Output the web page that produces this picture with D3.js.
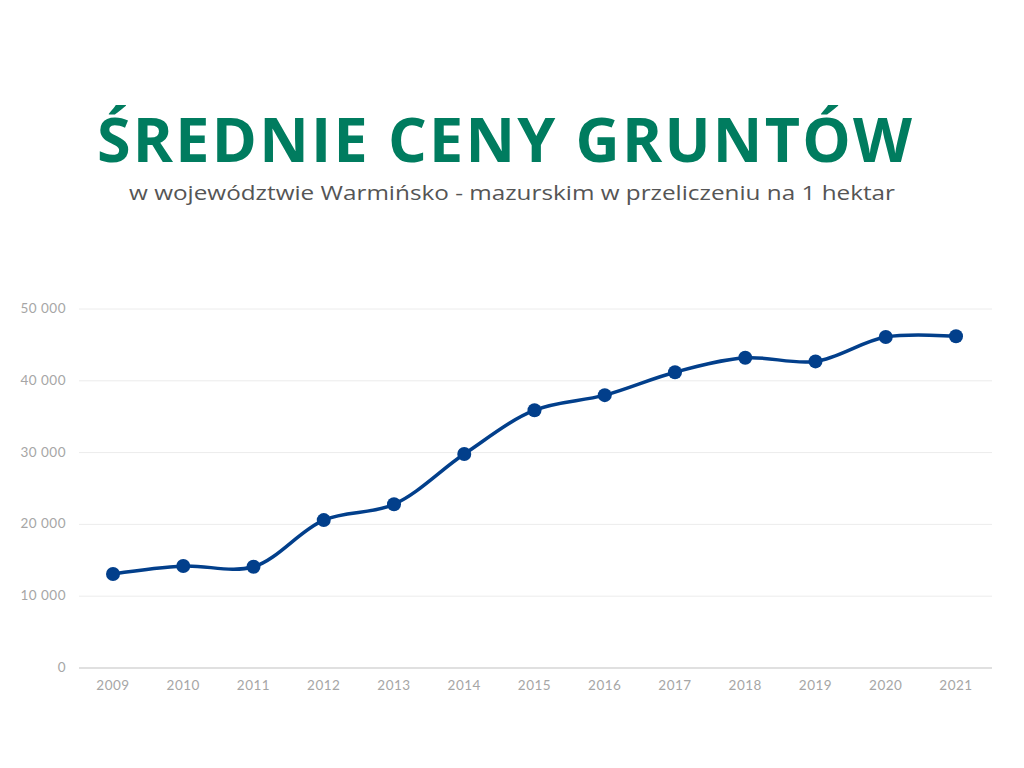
<!DOCTYPE html>
<html>
<head>
<meta charset="utf-8">
<script src="https://cdn.jsdelivr.net/npm/d3@7"></script>
<style>
  body { margin: 0; background: #fff; }
</style>
</head>
<body>
<svg id="chart" width="1024" height="768"></svg>
<script>
// data
var years = ["2009","2010","2011","2012","2013","2014","2015","2016","2017","2018","2019","2020","2021"];
var prices = [13100, 14200, 14100, 20600, 22800, 29800, 35900, 38000, 41200, 43200, 42700, 46100, 46200];
var yTicks = [0, 10000, 20000, 30000, 40000, 50000];

var svg = d3.select("#chart");

// title
svg.append("text")
  .attr("x", 97).attr("y", 162)
  .attr("textLength", 815).attr("lengthAdjust", "spacing")
  .style("font-family", "'Open Sans', sans-serif")
  .style("font-weight", "700")
  .style("font-size", "61px")
  .style("fill", "#007c5f")
  .text("ŚREDNIE CENY GRUNTÓW");

svg.append("text")
  .attr("x", 129).attr("y", 200)
  .attr("textLength", 766).attr("lengthAdjust", "spacingAndGlyphs")
  .style("font-family", "'Open Sans', sans-serif")
  .style("font-size", "20px")
  .style("fill", "#555")
  .text("w województwie Warmińsko - mazurskim w przeliczeniu na 1 hektar");

var left = 79, right = 992;
var x = d3.scalePoint().domain(years).range([113, 956]);
var y = d3.scaleLinear().domain([0, 50000]).range([668, 309]);

var fmt = function(d) { return d3.format(",")(d).replace(/,/g, " "); };

// grid lines
svg.append("g").selectAll("line")
  .data(yTicks)
  .enter().append("line")
  .attr("x1", left).attr("x2", right)
  .attr("y1", function(d) { return y(d); })
  .attr("y2", function(d) { return y(d); })
  .style("stroke", function(d) { return d === 0 ? "#d6d6d6" : "#ececec"; })
  .style("stroke-width", function(d) { return d === 0 ? 1.5 : 1; });

// y labels
svg.append("g").selectAll("text")
  .data(yTicks)
  .enter().append("text")
  .attr("x", 66)
  .attr("y", function(d) { return y(d) + 4; })
  .attr("text-anchor", "end")
  .style("font-family", "'Lato', sans-serif")
  .style("font-size", "13.5px")
  .style("letter-spacing", "0.5px")
  .style("fill", "#a6a6a6")
  .text(fmt);

// x labels
svg.append("g").selectAll("text")
  .data(years)
  .enter().append("text")
  .attr("x", function(d) { return x(d); })
  .attr("y", 690)
  .attr("text-anchor", "middle")
  .style("font-family", "'Lato', sans-serif")
  .style("font-size", "13.5px")
  .style("letter-spacing", "0.5px")
  .style("fill", "#a6a6a6")
  .text(function(d) { return d; });

var points = years.map(function(d, i) { return { year: d, value: prices[i] }; });

var line = d3.line()
  .x(function(d) { return x(d.year); })
  .y(function(d) { return y(d.value); })
  .curve(d3.curveCatmullRom.alpha(0.5));

svg.append("path")
  .datum(points)
  .attr("d", line)
  .style("fill", "none")
  .style("stroke", "#023f8b")
  .style("stroke-width", 3.5);

svg.append("g").selectAll("circle")
  .data(points)
  .enter().append("circle")
  .attr("cx", function(d) { return x(d.year); })
  .attr("cy", function(d) { return y(d.value); })
  .attr("r", 7)
  .style("fill", "#023f8b");
</script>
</body>
</html>
